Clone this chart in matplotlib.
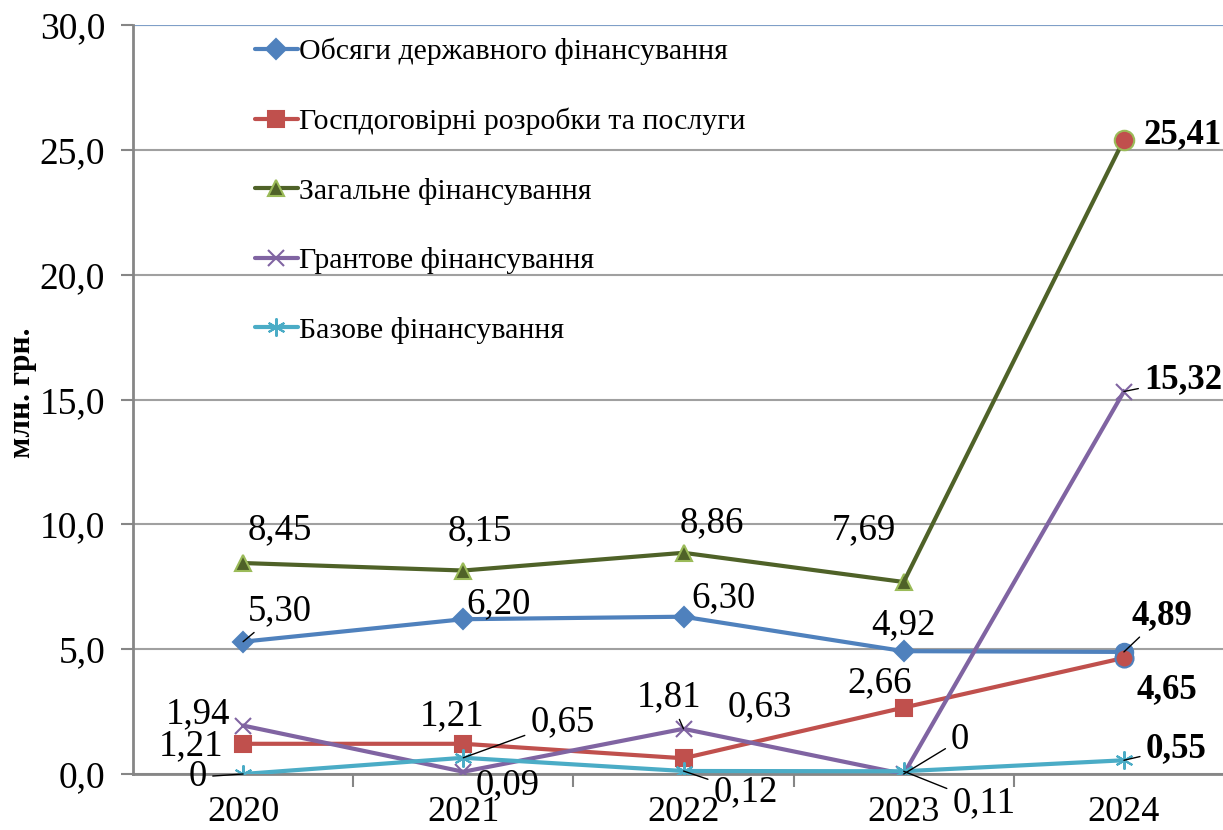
import matplotlib
matplotlib.use("Agg")
import matplotlib.pyplot as plt
import numpy as np

plt.rcParams['font.family'] = ['Liberation Serif', 'DejaVu Serif']

years = ['2020', '2021', '2022', '2023', '2024']
names = ['Обсяги державного фінансування',
         'Госпдоговірні розробки та послуги',
         'Загальне фінансування',
         'Грантове фінансування',
         'Базове фінансування']
derzh = [5.30, 6.20, 6.30, 4.92, 4.89]
gosp = [1.21, 1.21, 0.63, 2.66, 4.65]
zag = [8.45, 8.15, 8.86, 7.69, 25.41]
grant = [1.94, 0.09, 1.81, 0.0, 15.32]
baz = [0.0, 0.65, 0.12, 0.11, 0.55]
series = [derzh, gosp, zag, grant, baz]

colors = ['#4F81BD', '#C0504D', '#4F6228', '#8064A2', '#4BACC6']
markers = ['D', 's', '^', 'x', (6, 2, 0)]
msizes = [10, 11, 12, 11, 13]
mec = ['#4F81BD', '#C0504D', '#9BBB59', '#8064A2', '#4BACC6']

# label offsets in pixels (dx, dy), bold flag, leader line
lab = [
    [(37, 31, 0, 1), (35, 15, 0, 0), (40, 19, 0, 0), (0, 26, 0, 0), (38, 36, 1, 1)],
    [(-52, -2, 0, 0), (-11, 28, 0, 0), (76, 51, 0, 0), (-24, 25, 0, 0), (43, -32, 1, 0)],
    [(37, 33, 0, 0), (17, 40, 0, 0), (28, 30, 0, 0), (-40, 52, 0, 0), (59, 5, 1, 0)],
    [(-45, 12, 0, 0), (44, -13, 0, 0), (-14, 32, 0, 1), (56, 34, 0, 1), (59, 12, 1, 1)],
    [(-45, -3, 0, 1), (99, 36, 0, 1), (62, -21, 0, 1), (80, -32, 0, 1), (52, 12, 1, 1)],
]

fig = plt.figure(figsize=(12.23, 8.30), dpi=100)
ax = fig.add_axes([133 / 1223, 56 / 830, 1 - 133 / 1223, 749 / 830])
x = np.arange(len(years))

for i, s in enumerate(series):
    ax.plot(x[:4], s[:4], color=colors[i], lw=3, marker=markers[i], ms=msizes[i],
            mfc=colors[i], mec=mec[i], mew=1.5,
            label=names[i], zorder=3 + i, solid_capstyle='round')
    ax.plot(x[3:], s[3:], color=colors[i], lw=3, zorder=3 + i)

# 2024 special markers
ax.plot(x[4], derzh[4], 'o', ms=13, mfc='#4F81BD', mec='#4F81BD', zorder=10)
ax.plot(x[4], gosp[4], 'o', ms=13, mfc='#C0504D', mec='#4F81BD', mew=1.5, zorder=11)
ax.plot(x[4], zag[4], 'o', ms=14, mfc='#C0504D', mec='#9BBB59', mew=1.5, zorder=11)
ax.plot(x[4], grant[4], 'x', ms=11, mec='#8064A2', mew=1.5, zorder=11)
ax.plot(x[4], baz[4], marker=(6, 2, 0), ms=13, mec='#4BACC6', mew=1.5, zorder=11)

for i, s in enumerate(series):
    for j, v in enumerate(s):
        dx, dy, b, ld = lab[i][j]
        txt = ('%.2f' % v).replace('.', ',') if v != 0 else '0'
        ap = None
        if ld:
            ap = dict(arrowstyle='-', color='black', lw=1, shrinkA=2, shrinkB=0)
        ax.annotate(txt, (j, v), xytext=(dx, dy), textcoords='offset pixels',
                    ha='center', va='center', fontsize=25 if b else 26.5,
                    fontweight='bold' if b else 'normal', arrowprops=ap, zorder=20)

ax.set_xlim(-0.5, 4.45)
ax.set_ylim(0, 30)
ax.set_yticks(np.arange(0, 31, 5))
ax.set_yticklabels([('%.1f' % t).replace('.', ',') for t in np.arange(0, 31, 5)],
                   fontsize=27)
ax.yaxis.grid(True, color='#A0A0A0', lw=1.5)
ax.set_axisbelow(True)
ax.set_xticks([0.5, 1.5, 2.5, 3.5])
ax.set_xticklabels([])
ax.set_xticks(x, minor=True)
ax.set_xticklabels(years, minor=True, fontsize=26)
ax.tick_params(axis='x', which='major', length=9, width=1.5, color='#868686', direction='out')
ax.tick_params(axis='x', which='minor', length=0, pad=16)
ax.tick_params(axis='y', length=9, width=1.5, color='#868686', pad=11)
for sp in ['top', 'right']:
    ax.spines[sp].set_visible(False)
ax.spines['left'].set_color('#868686')
ax.spines['left'].set_linewidth(2)
ax.spines['bottom'].set_color('#868686')
ax.spines['bottom'].set_linewidth(2)
ax.axhline(30, color='#7F9FC8', lw=1.5, zorder=1)

ax.set_ylabel('млн. грн.', fontsize=22.5, fontweight='bold')
ax.yaxis.set_label_coords(37 / 1223, 437 / 830, transform=fig.transFigure)

leg = ax.legend(loc='upper left', bbox_to_anchor=(243 / 1223, 1 - 26 / 830),
                bbox_transform=fig.transFigure, frameon=False, fontsize=21.5,
                handlelength=1.44, handletextpad=0.05, labelspacing=1.42,
                borderaxespad=0)

fig.savefig('out.png', dpi=100)
